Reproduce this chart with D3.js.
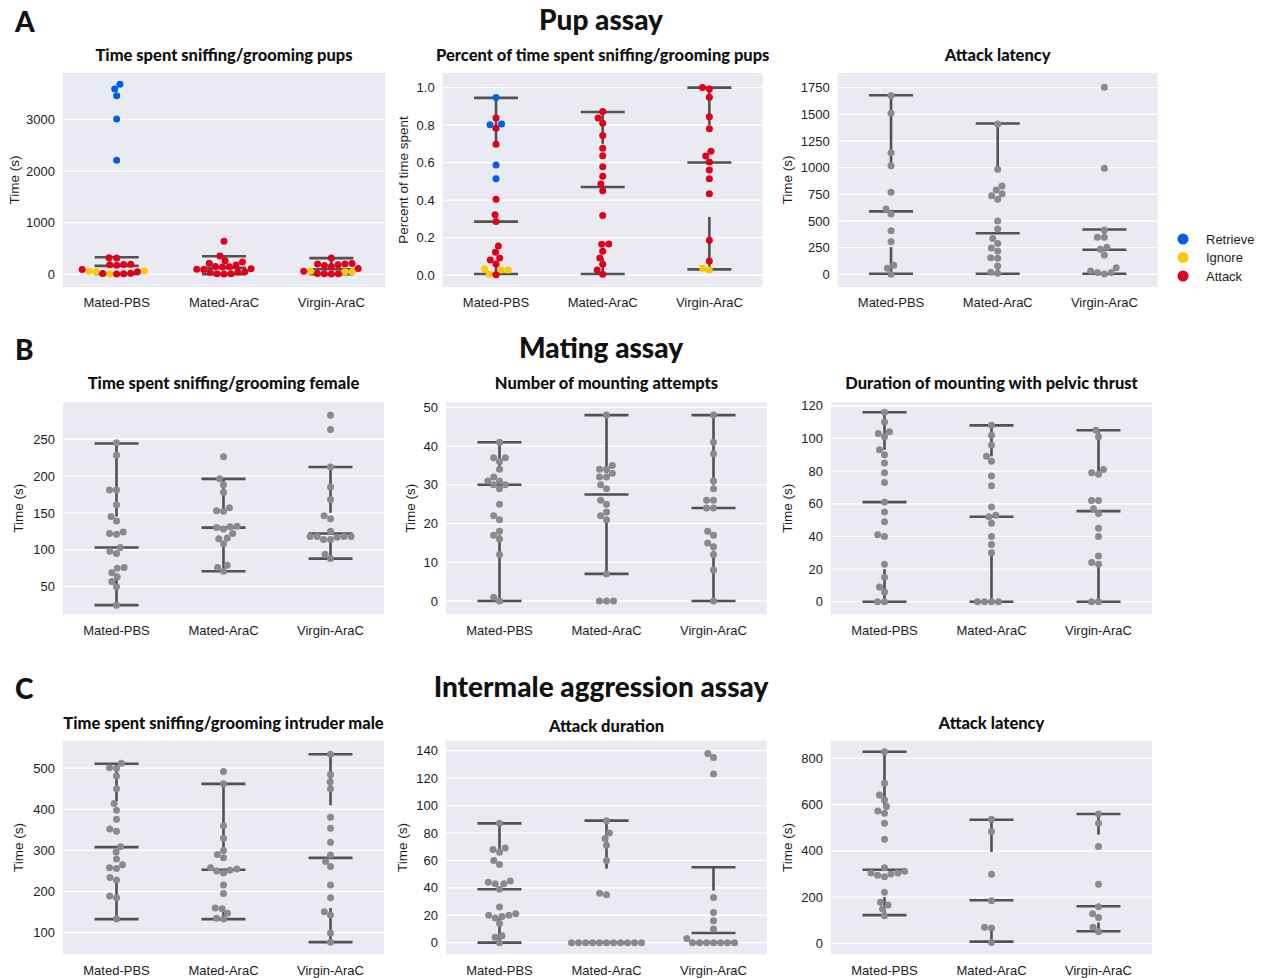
<!DOCTYPE html>
<html><head><meta charset="utf-8">
<script src="https://cdn.jsdelivr.net/npm/d3@7"></script>
<style>body{margin:0;background:#fff}svg{display:block}</style>
</head><body>
<svg id="chart" width="1265" height="979"></svg>
<script>
// ---------------- data ----------------
const groups = ["Mated-PBS", "Mated-AraC", "Virgin-AraC"];
const behaviors = ["Retrieve", "Ignore", "Attack"];

// Pup assay: time spent sniffing/grooming pups (s), split by behavior
const pupTimeRetrieve = [[3680, 3590, 3460, 3010, 2210], [], []];
const pupTimeIgnore = [[65, 60, 50, 8], [], [60, 50, 50]];
const pupTimeAttack = [
  [320, 318, 195, 190, 185, 178, 95, 50, 20, 15, 12, 5],
  [640, 355, 265, 240, 215, 180, 150, 145, 140, 110, 100, 95, 50, 45, 40, 12, 10, 8],
  [315, 210, 200, 200, 185, 170, 150, 115, 60, 15, 12, 10, 8]];
const pupTimeStats = [[8, 30, 165, 300, 330], [5, 40, 125, 250, 350], [5, 20, 100, 200, 315]];
const pupTimeTicks = [0, 1000, 2000, 3000];

// Pup assay: percent of time spent sniffing/grooming pups
const pupPctRetrieve = [[0.947, 0.806, 0.802, 0.587, 0.514], [], []];
const pupPctIgnore = [[0.034, 0.027, 0.027, 0.005], [], [0.036, 0.027]];
const pupPctAttack = [
  [0.838, 0.783, 0.698, 0.404, 0.322, 0.285, 0.155, 0.121, 0.091, 0.080, 0.059, 0.002],
  [0.872, 0.838, 0.81, 0.744, 0.676, 0.637, 0.578, 0.527, 0.486, 0.45, 0.317, 0.166, 0.164, 0.127, 0.091, 0.057, 0.027, 0.004],
  [1.0, 0.993, 0.949, 0.844, 0.781, 0.66, 0.635, 0.603, 0.561, 0.514, 0.434, 0.185, 0.075]];
const pupPctStats = [[0.005, 0.06, 0.285, 0.70, 0.945], [0.005, 0.09, 0.47, 0.70, 0.87], [0.03, 0.31, 0.60, 0.80, 1.0]];
const pupPctTicks = [0, 0.2, 0.4, 0.6, 0.8, 1.0];

// Pup assay: attack latency (s)
const pupLatency = [
  [1676, 1510, 1141, 1019, 769, 613, 566, 409, 306, 84, 56, 0],
  [1410, 985, 828, 791, 755, 737, 704, 500, 425, 337, 290, 247, 219, 155, 150, 78, 20, 9],
  [1754, 994, 416, 347, 347, 254, 234, 181, 62, 31, 16, 16, 4]];
const pupLatencyStats = [[5, 255, 590, 1020, 1680], [5, 100, 385, 990, 1415], [5, 30, 230, 340, 420]];
const pupLatencyTicks = [0, 250, 500, 750, 1000, 1250, 1500, 1750];

// Mating assay
const femaleSniff = [
  [245, 228, 181, 181, 161, 145, 139, 124, 122, 121, 103, 98, 95, 76, 75, 69, 63, 57, 50, 25],
  [226, 196, 188, 178, 157, 153, 152, 132, 131, 130, 128, 122, 116, 115, 108, 79, 76, 71],
  [282, 263, 212, 185, 168, 146, 142, 125, 118, 118, 118, 118, 117, 114, 114, 94, 88]];
const femaleSniffStats = [[25, 68, 103, 145, 244], [71, 110, 130, 155, 196], [88, 114, 122, 150, 212]];
const femaleSniffTicks = [50, 100, 150, 200, 250];

const mountAttempts = [
  [41, 37, 37, 36, 34, 32, 31, 31, 30, 30, 29, 25, 22, 21, 18, 17, 16, 12, 1, 0],
  [48, 35, 34, 34, 33, 32, 32, 30, 29, 26, 25, 23, 22, 21, 7, 0, 0, 0],
  [48, 41, 38, 31, 29, 26, 26, 24, 24, 18, 17, 15, 14, 12, 8, 0]];
const mountAttemptsStats = [[0, 17, 30, 34, 41], [7, 21, 27.5, 33, 48], [0, 13, 24, 30, 48]];
const mountAttemptsTicks = [0, 10, 20, 30, 40, 50];

const mountDuration = [
  [116, 110, 104, 103, 101, 93, 90, 85, 79, 73, 61, 55, 49, 41, 40, 23, 15, 9, 6, 0, 0],
  [108, 102, 96, 89, 86, 77, 71, 58, 53, 52, 48, 40, 35, 30, 0, 0, 0, 0],
  [105, 101, 81, 79, 78, 62, 62, 57, 54, 45, 40, 28, 24, 23, 0, 0]];
const mountDurationStats = [[0, 20, 61, 93, 116], [0, 30, 52, 89, 108], [0, 24, 55.5, 80, 105]];
const mountDurationTicks = [0, 20, 40, 60, 80, 100, 120];

// Intermale aggression assay
const intruderSniff = [
  [512, 501, 500, 481, 450, 414, 398, 376, 352, 347, 309, 296, 279, 265, 258, 256, 234, 228, 189, 185, 133],
  [492, 462, 360, 330, 300, 290, 282, 258, 255, 252, 250, 245, 216, 195, 160, 158, 147, 135, 133],
  [534, 485, 467, 450, 381, 354, 320, 289, 273, 261, 216, 185, 151, 143, 99, 77]];
const intruderSniffStats = [[133, 232, 308, 420, 511], [133, 165, 253, 300, 462], [77, 160, 282, 410, 534]];
const intruderSniffTicks = [100, 200, 300, 400, 500];

const attackDuration = [
  [87, 69, 68, 66, 60, 57, 45, 44, 43, 43, 39, 26, 21, 20, 20, 19, 18, 14, 5, 4, 0],
  [89, 80, 76, 71, 60, 36, 35, 0, 0, 0, 0, 0, 0, 0, 0, 0, 0, 0],
  [138, 135, 123, 33, 22, 16, 10, 3, 0, 0, 0, 0, 0, 0, 0]];
const attackDurationStats = [[0, 18, 39, 66, 87], [0, 0, 0, 54, 89], [0, 0, 7, 38, 55]];
const attackDurationTicks = [0, 20, 40, 60, 80, 100, 120, 140];

const aggLatency = [
  [828, 692, 641, 620, 591, 572, 562, 519, 450, 327, 312, 304, 304, 300, 294, 288, 221, 177, 166, 148, 119],
  [536, 483, 298, 184, 69, 66, 3],
  [559, 519, 418, 255, 158, 128, 112, 69, 50]];
const aggLatencyStats = [[122, 200, 318, 590, 828], [7, 65, 186, 395, 534], [52, 90, 160, 470, 559]];
const aggLatencyTicks = [0, 200, 400, 600, 800];

// ---------------- styles ----------------
const behaviorColor = {Retrieve: "#0060e6", Ignore: "#ffc800", Attack: "#e0001b"};
const dotGray = "#8a8a8a";
const lineGray = "#515151";
const bgColor = "#eaeaf2";
const titleFont = "Lato, 'Open Sans', sans-serif";
const axisFont = "'Liberation Sans', Arial, sans-serif";
const textColor = "#1c1c1c";

const svg = d3.select("#chart");

function withBehavior(r, i, a, gi) {
  const out = [];
  r[gi].forEach(v => out.push({v, c: behaviorColor.Retrieve}));
  i[gi].forEach(v => out.push({v, c: behaviorColor.Ignore}));
  a[gi].forEach(v => out.push({v, c: behaviorColor.Attack}));
  return out;
}
function plain(arr, gi) { return arr[gi].map(v => ({v, c: dotGray})); }

// beeswarm in pixel space
function swarm(points, r) {
  const d = 2 * r;
  const sorted = points.slice().sort((a, b) => b.py - a.py);
  const placed = [];
  for (const p of sorted) {
    const nb = placed.filter(q => Math.abs(q.py - p.py) < d);
    const cands = [0];
    for (const q of nb) {
      const dy = p.py - q.py;
      const dx = Math.sqrt(d * d - dy * dy);
      cands.push(q.dx + dx, q.dx - dx);
    }
    cands.sort((a, b) => (Math.abs(a) - Math.abs(b)) || (a - b));
    p.dx = 0;
    for (const c of cands) {
      if (nb.every(q => (q.dx - c) ** 2 + (q.py - p.py) ** 2 >= d * d - 0.01)) { p.dx = c; break; }
    }
    placed.push(p);
  }
  return points;
}

function panel(cfg) {
  const g = svg.append("g");
  const x = d3.scaleBand().domain(groups).range([cfg.x0, cfg.x1]);
  const y = d3.scaleLinear().domain(cfg.domain).range([cfg.y1, cfg.y0]);
  g.append("rect").attr("x", cfg.x0).attr("y", cfg.y0)
    .attr("width", cfg.x1 - cfg.x0).attr("height", cfg.y1 - cfg.y0).attr("fill", bgColor);
  // gridlines + y ticks
  const yAxis = d3.axisLeft(y).tickValues(cfg.ticks).tickSize(0).tickPadding(8)
    .tickFormat(cfg.format || d3.format("d"));
  const ya = g.append("g").attr("transform", `translate(${cfg.x0},0)`).call(yAxis);
  ya.select(".domain").remove();
  ya.selectAll("text").attr("font-family", axisFont).attr("font-size", 13).attr("fill", textColor);
  g.append("g").selectAll("line").data(cfg.ticks).join("line")
    .attr("x1", cfg.x0).attr("x2", cfg.x1)
    .attr("y1", d => y(d)).attr("y2", d => y(d))
    .attr("stroke", "#fff").attr("stroke-width", 1.3);
  // x axis
  const xAxis = d3.axisBottom(x).tickSize(0).tickPadding(11);
  const xa = g.append("g").attr("transform", `translate(0,${cfg.y1})`).call(xAxis);
  xa.select(".domain").remove();
  xa.selectAll("text").attr("font-family", axisFont).attr("font-size", 13).attr("fill", textColor);
  // title
  g.append("text").attr("x", (cfg.x0 + cfg.x1) / 2).attr("y", cfg.titleY)
    .attr("text-anchor", "middle").attr("font-family", titleFont).attr("font-weight", 900)
    .attr("font-size", 16.5).attr("fill", "#111").text(cfg.title);
  // y label
  g.append("text").attr("transform", `translate(${cfg.ylabelX},${(cfg.y0 + cfg.y1) / 2}) rotate(-90)`)
    .attr("text-anchor", "middle").attr("dominant-baseline", "central")
    .attr("font-family", axisFont).attr("font-size", 13.5).attr("fill", textColor).text(cfg.ylabel);
  // boxes (whiskers, caps, median) then points
  const half = 22;
  cfg.stats.forEach((s, gi) => {
    const cx = x(groups[gi]) + x.bandwidth() / 2;
    const [lo, q1, med, q3, hi] = s;
    const lg = g.append("g").attr("stroke", lineGray).attr("stroke-width", 2.6);
    lg.append("line").attr("x1", cx).attr("x2", cx).attr("y1", y(q3)).attr("y2", y(hi));
    lg.append("line").attr("x1", cx).attr("x2", cx).attr("y1", y(lo)).attr("y2", y(q1));
    [lo, med, hi].forEach(v => lg.append("line").attr("x1", cx - half).attr("x2", cx + half)
      .attr("y1", y(v)).attr("y2", y(v)));
  });
  const r = 3.5;
  cfg.points.forEach((pts, gi) => {
    const cx = x(groups[gi]) + x.bandwidth() / 2;
    const ps = pts.map(p => ({...p, py: y(p.v)}));
    swarm(ps, r);
    g.append("g").selectAll("circle").data(ps).join("circle")
      .attr("cx", d => cx + d.dx).attr("cy", d => d.py).attr("r", r).attr("fill", d => d.c);
  });
}

const rowA = {y0: 73, y1: 287, titleY: 61};
const rowB = {y0: 402.3, y1: 614.3, titleY: 389};
const rowC = {y0: 740.7, y1: 954.3, titleY: 729};
const col1 = {x0: 63, x1: 384};
const col2 = {x0: 446, x1: 767};
const col3 = {x0: 831, x1: 1152};

panel({...rowA, x0: 63, x1: 385, domain: [-245, 3900], ticks: pupTimeTicks,
  title: "Time spent sniffing/grooming pups", ylabel: "Time (s)", ylabelX: 14.5,
  stats: pupTimeStats, points: groups.map((_, i) => withBehavior(pupTimeRetrieve, pupTimeIgnore, pupTimeAttack, i))});
panel({...rowA, x0: 442.7, x1: 762.7, domain: [-0.064, 1.078], ticks: pupPctTicks, format: d3.format(".1f"),
  title: "Percent of time spent sniffing/grooming pups", ylabel: "Percent of time spent", ylabelX: 403,
  stats: pupPctStats, points: groups.map((_, i) => withBehavior(pupPctRetrieve, pupPctIgnore, pupPctAttack, i))});
panel({...rowA, x0: 837.7, x1: 1157.7, domain: [-119, 1888], ticks: pupLatencyTicks,
  title: "Attack latency", ylabel: "Time (s)", ylabelX: 787.5,
  stats: pupLatencyStats, points: groups.map((_, i) => plain(pupLatency, i))});

panel({...rowB, ...col1, domain: [12.6, 299.7], ticks: femaleSniffTicks,
  title: "Time spent sniffing/grooming female", ylabel: "Time (s)", ylabelX: 18,
  stats: femaleSniffStats, points: groups.map((_, i) => plain(femaleSniff, i))});
panel({...rowB, ...col2, domain: [-3.43, 51.3], ticks: mountAttemptsTicks,
  title: "Number of mounting attempts", ylabel: "Time (s)", ylabelX: 410,
  stats: mountAttemptsStats, points: groups.map((_, i) => plain(mountAttempts, i))});
panel({...rowB, ...col3, domain: [-7.7, 122.1], ticks: mountDurationTicks,
  title: "Duration of mounting with pelvic thrust", ylabel: "Time (s)", ylabelX: 787.5,
  stats: mountDurationStats, points: groups.map((_, i) => plain(mountDuration, i))});

panel({...rowC, ...col1, domain: [47.4, 567], ticks: intruderSniffTicks,
  title: "Time spent sniffing/grooming intruder male", ylabel: "Time (s)", ylabelX: 18,
  stats: intruderSniffStats, points: groups.map((_, i) => plain(intruderSniff, i))});
panel({...rowC, ...col2, domain: [-8.5, 147.3], ticks: attackDurationTicks, titleY: 732,
  title: "Attack duration", ylabel: "Time (s)", ylabelX: 402,
  stats: attackDurationStats, points: groups.map((_, i) => plain(attackDuration, i))});
panel({...rowC, ...col3, domain: [-47.6, 876], ticks: aggLatencyTicks,
  title: "Attack latency", ylabel: "Time (s)", ylabelX: 787.5,
  stats: aggLatencyStats, points: groups.map((_, i) => plain(aggLatency, i))});

// section titles and letters
const sections = [
  {letter: "A", title: "Pup assay", y: 30},
  {letter: "B", title: "Mating assay", y: 358},
  {letter: "C", title: "Intermale aggression assay", y: 697}];
sections.forEach(s => {
  svg.append("text").attr("x", 601).attr("y", s.y).attr("text-anchor", "middle")
    .attr("font-family", titleFont).attr("font-weight", 900).attr("font-size", 28)
    .attr("fill", "#111").text(s.title);
  svg.append("text").attr("x", 15).attr("y", s.y + 2).attr("font-family", titleFont)
    .attr("font-weight", 900).attr("font-size", 28).attr("fill", "#111").text(s.letter);
});

// legend
const lg = svg.append("g");
behaviors.forEach((b, i) => {
  const yy = 239 + i * 18.5;
  lg.append("circle").attr("cx", 1183).attr("cy", yy).attr("r", 5.5).attr("fill", behaviorColor[b]);
  lg.append("text").attr("x", 1206).attr("y", yy).attr("dominant-baseline", "central")
    .attr("font-family", axisFont).attr("font-size", 13).attr("fill", textColor)
    .text(b);
});
</script>
</body></html>
